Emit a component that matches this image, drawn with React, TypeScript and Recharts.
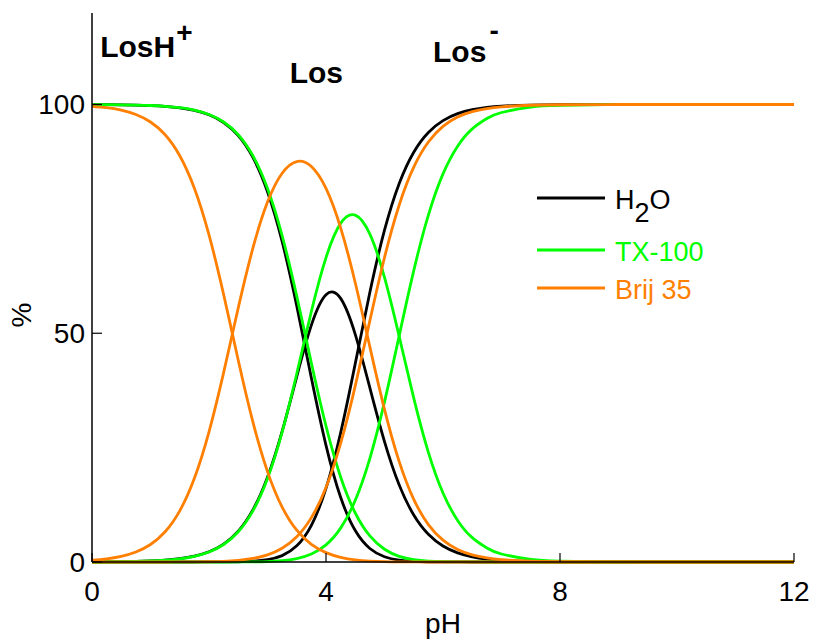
import { LineChart, Line, XAxis, YAxis, Legend, ReferenceDot, Label } from 'recharts'

// pH grid (x) and species fractions in %
const PH = [0, 0.25, 0.5, 0.75, 1, 1.25, 1.5, 1.75, 2, 2.25, 2.5, 2.75, 3, 3.25, 3.5, 3.75, 4, 4.25, 4.5, 4.75, 5, 5.25, 5.5, 5.75, 6, 6.25, 6.5, 6.75, 7, 7.5, 8, 9, 10, 11, 12]

// H2O
const H2O_LOSH = [99.98, 99.96, 99.93, 99.87, 99.77, 99.6, 99.28, 98.73, 97.76, 96.07, 93.2, 88.43, 80.94, 70.06, 55.94, 40.2, 25.5, 14.15, 6.87, 2.96, 1.15, 0.41, 0.14, 0.05, 0.02, 0.01, 0, 0, 0, 0, 0, 0, 0, 0, 0]
const H2O_LOS = [0.02, 0.04, 0.07, 0.13, 0.23, 0.4, 0.72, 1.27, 2.24, 3.91, 6.75, 11.39, 18.54, 28.54, 40.53, 51.78, 58.41, 57.63, 49.77, 38.07, 26.33, 16.89, 10.28, 6.06, 3.5, 2.0, 1.14, 0.64, 0.36, 0.12, 0.04, 0, 0, 0, 0]
const H2O_LOSM = [0, 0, 0, 0, 0, 0, 0, 0, 0.01, 0.02, 0.06, 0.18, 0.51, 1.4, 3.53, 8.02, 16.09, 28.22, 43.36, 58.97, 72.52, 82.7, 89.58, 93.89, 96.48, 98.0, 98.86, 99.36, 99.64, 99.88, 99.96, 100, 100, 100, 100]

// TX-100
const TX_LOSH = [99.98, 99.96, 99.93, 99.87, 99.78, 99.6, 99.3, 98.76, 97.81, 96.17, 93.38, 88.79, 81.62, 71.32, 58.12, 43.5, 29.72, 18.59, 10.71, 5.69, 2.78, 1.24, 0.51, 0.19, 0.07, 0.03, 0.01, 0, 0, 0, 0, 0, 0, 0, 0]
const TX_LOS = [0.02, 0.04, 0.07, 0.13, 0.22, 0.4, 0.7, 1.24, 2.19, 3.83, 6.61, 11.18, 18.27, 28.39, 41.15, 54.77, 66.54, 74.01, 75.81, 71.65, 62.23, 49.38, 35.81, 23.98, 15.09, 9.09, 5.32, 3.07, 1.75, 0.56, 0.18, 0.02, 0, 0, 0]
const TX_LOSM = [0, 0, 0, 0, 0, 0, 0, 0, 0, 0, 0.01, 0.04, 0.1, 0.28, 0.73, 1.73, 3.74, 7.4, 13.48, 22.66, 34.99, 49.38, 63.68, 75.83, 84.84, 90.89, 94.67, 96.93, 98.25, 99.44, 99.82, 99.98, 100, 100, 100]

// Brij 35
const BRIJ_LOSH = [99.6, 99.3, 98.76, 97.81, 96.17, 93.39, 88.81, 81.69, 71.48, 58.47, 44.11, 30.64, 19.76, 12.0, 6.95, 3.86, 2.05, 1.03, 0.48, 0.21, 0.08, 0.03, 0.01, 0, 0, 0, 0, 0, 0, 0, 0, 0, 0, 0, 0]
const BRIJ_LOS = [0.4, 0.7, 1.24, 2.19, 3.83, 6.61, 11.18, 18.29, 28.46, 41.39, 55.54, 68.59, 78.67, 84.98, 87.53, 86.45, 81.66, 73.05, 61.03, 47.03, 33.36, 21.98, 13.68, 8.18, 4.77, 2.74, 1.56, 0.88, 0.5, 0.16, 0.05, 0.01, 0, 0, 0]
const BRIJ_LOSM = [0, 0, 0, 0, 0, 0, 0.01, 0.02, 0.06, 0.15, 0.35, 0.77, 1.57, 3.02, 5.52, 9.7, 16.29, 25.92, 38.5, 52.76, 66.56, 77.99, 86.31, 91.81, 95.23, 97.26, 98.44, 99.12, 99.5, 99.84, 99.95, 100, 100, 100, 100]

const X_TICKS = [0, 4, 8, 12]
const X_TOP_TICKS = [2, 4, 6, 8, 10]
const Y_TICKS = [0, 50, 100]

const FONT = '"Liberation Sans", Arial, Helvetica, sans-serif'
const BLACK = '#000000'
const GREEN = '#00ff00'
const ORANGE = '#ff7f00'

const rows = PH.map((ph, i) => ({
  ph,
  h2oLosH: H2O_LOSH[i], h2oLos: H2O_LOS[i], h2oLosM: H2O_LOSM[i],
  txLosH: TX_LOSH[i], txLos: TX_LOS[i], txLosM: TX_LOSM[i],
  brijLosH: BRIJ_LOSH[i], brijLos: BRIJ_LOS[i], brijLosM: BRIJ_LOSM[i],
}))

// draw order: black, green, orange on top
const SERIES = [
  { key: 'h2oLosH', color: BLACK }, { key: 'h2oLos', color: BLACK }, { key: 'h2oLosM', color: BLACK },
  { key: 'txLosH', color: GREEN }, { key: 'txLos', color: GREEN }, { key: 'txLosM', color: GREEN },
  { key: 'brijLosH', color: ORANGE }, { key: 'brijLos', color: ORANGE }, { key: 'brijLosM', color: ORANGE },
]

// species names written inside the plot (anchor = start of text, baseline)
const SPECIES = [
  { name: 'LosH', sup: '+', ph: 0.14, pct: 110.4 },
  { name: 'Los', sup: '', ph: 3.38, pct: 104.7 },
  { name: 'Los', sup: '-', ph: 5.83, pct: 109.3 },
]

function SpeciesLabel({ viewBox, name, sup }: any) {
  return (
    <text x={viewBox.x} y={viewBox.y} fontSize={30} fontWeight="bold" fill="#000" fontFamily={FONT}>
      {name}
      {sup && (
        <tspan dx={sup === '-' ? 3 : 1} dy={sup === '-' ? -22 : -15} fontSize={28}>{sup}</tspan>
      )}
    </text>
  )
}

function PercentLabel({ viewBox }: any) {
  const x = viewBox.x + 22
  const y = viewBox.y + viewBox.height * 0.55
  return (
    <text x={x} y={y} fontSize={28} fill="#000" fontFamily={FONT} textAnchor="middle"
      dominantBaseline="central" transform={`rotate(-90 ${x} ${y})`}>%</text>
  )
}

function LegendBox() {
  const items = [
    { color: BLACK, y: 28 },
    { color: GREEN, y: 80 },
    { color: ORANGE, y: 118 },
  ]
  return (
    <svg width={240} height={140} style={{ fontFamily: FONT, overflow: 'visible' }}>
      {items.map((it, i) => (
        <line key={i} x1={0} x2={68} y1={it.y} y2={it.y} stroke={it.color} strokeWidth={2.8} />
      ))}
      <text x={78} y={39} fontSize={27} fill={BLACK}>
        H<tspan dy={13}>2</tspan><tspan dy={-13}>O</tspan>
      </text>
      <text x={78} y={91} fontSize={27} fill={GREEN}>TX-100</text>
      <text x={78} y={129} fontSize={27} fill={ORANGE}>Brij 35</text>
    </svg>
  )
}

export default function App() {
  return (
    <div style={{ position: 'absolute', left: 0, top: 0, width: 816, height: 642, background: '#fff' }}>
      <LineChart width={816} height={642} data={rows} margin={{ top: 13, right: 22, bottom: 0, left: 0 }}
        style={{ fontFamily: FONT }}>
        <XAxis dataKey="ph" type="number" domain={[0, 12]} ticks={X_TICKS} interval={0}
          height={80} tickSize={-9} tickMargin={28}
          tick={{ fontSize: 28, fill: '#000' }}
          axisLine={{ stroke: '#000', strokeWidth: 1.5 }} tickLine={{ stroke: '#000', strokeWidth: 1.2 }}>
          <Label value="pH" position="insideBottom" offset={9} fontSize={28} fill="#000" />
        </XAxis>
        <XAxis xAxisId="top" orientation="top" dataKey="ph" type="number" domain={[0, 12]}
          ticks={X_TOP_TICKS} interval={0} height={0} tickSize={-4} tick={false}
          axisLine={{ stroke: '#000', strokeWidth: 1.5 }} tickLine={{ stroke: '#000', strokeWidth: 1.2 }} />
        <YAxis type="number" domain={[0, 120]} ticks={Y_TICKS} interval={0} width={92}
          tickSize={-10} tickMargin={17}
          tick={{ fontSize: 28, fill: '#000' }}
          axisLine={{ stroke: '#000', strokeWidth: 1.5 }} tickLine={{ stroke: '#000', strokeWidth: 1.2 }}>
          <Label content={<PercentLabel />} />
        </YAxis>
        <YAxis yAxisId="right" orientation="right" type="number" domain={[0, 120]} width={0}
          tick={false} tickLine={false} axisLine={{ stroke: '#000', strokeWidth: 1.5 }} />
        {SERIES.map((s) => (
          <Line key={s.key} type="natural" dataKey={s.key} stroke={s.color} strokeWidth={2.8}
            dot={false} activeDot={false} isAnimationActive={false} />
        ))}
        {SPECIES.map((sp, i) => (
          <ReferenceDot key={i} x={sp.ph} y={sp.pct} r={0} fill="none" stroke="none"
            label={<SpeciesLabel name={sp.name} sup={sp.sup} />} />
        ))}
        <Legend layout="vertical" align="center" verticalAlign="middle"
          wrapperStyle={{ left: 537, top: 170, width: 240, height: 140 }}
          content={() => <LegendBox />} />
      </LineChart>
    </div>
  )
}
